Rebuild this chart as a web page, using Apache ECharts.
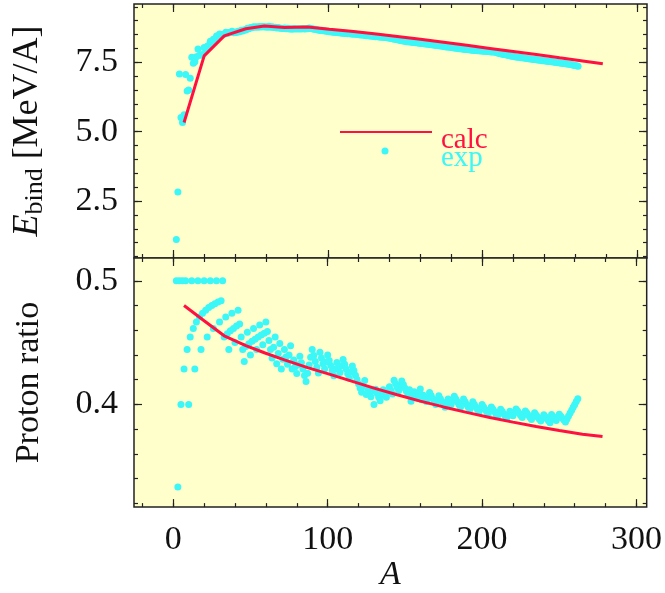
<!DOCTYPE html>
<html>
<head>
<meta charset="utf-8">
<script src="https://cdn.jsdelivr.net/npm/echarts@6.0.0/dist/echarts.min.js"></script>
<style>
  html, body { margin: 0; padding: 0; background: #ffffff; }
  #chart { width: 665px; height: 593px; }
</style>
</head>
<body>
<div id="chart"></div>
<script>
// ---------------- data ----------------
// mass number A of the experimental points
const expA = [
  2,3,4,5,6,7,8,9,10,11,12,13,14,15,16,17,18,19,20,21,22,23,24,25,26,27,28,29,30,31,
  32,33,34,35,36,37,38,39,40,41,42,43,44,45,46,47,48,49,50,51,52,53,54,55,56,57,58,59,60,61,
  62,63,64,65,66,67,68,69,70,71,72,73,74,75,76,77,78,79,80,81,82,83,84,85,86,87,88,89,90,91,
  92,93,94,95,96,97,98,99,100,101,102,103,104,105,106,107,108,109,110,111,112,113,114,115,116,117,118,119,120,121,
  122,123,124,125,126,127,128,129,130,131,132,133,134,135,136,137,138,139,140,141,142,143,144,145,146,147,148,149,150,151,
  152,153,154,155,156,157,158,159,160,161,162,163,164,165,166,167,168,169,170,171,172,173,174,175,176,177,178,179,180,181,
  182,183,184,185,186,187,188,189,190,191,192,193,194,195,196,197,198,199,200,201,202,203,204,205,206,207,208,209,210,211,
  212,213,214,215,216,217,218,219,220,221,222,223,224,225,226,227,228,229,230,231,232,233,234,235,236,237,238,239,240,241,
  242,243,244,245,246,247,248,249,250,251,252,253,254,255,256,257,258,259,260,261,262
];
// experimental binding energy per nucleon [MeV]
const expBind = [
  1.112,2.827,7.074,5.512,5.332,5.606,7.062,6.463,6.498,6.928,7.680,7.470,7.520,7.699,7.976,7.751,7.767,7.779,8.032,7.972,
  8.081,8.112,8.261,8.223,8.334,8.332,8.448,8.449,8.521,8.481,8.493,8.514,8.584,8.538,8.575,8.570,8.614,8.563,8.595,8.576,
  8.617,8.601,8.658,8.631,8.669,8.665,8.723,8.711,8.756,8.742,8.776,8.760,8.778,8.765,8.790,8.770,8.792,8.768,8.781,8.765,
  8.795,8.763,8.777,8.757,8.760,8.737,8.756,8.725,8.730,8.718,8.732,8.705,8.725,8.701,8.711,8.694,8.718,8.696,8.711,8.696,
  8.711,8.696,8.717,8.699,8.712,8.711,8.733,8.714,8.710,8.693,8.693,8.672,8.667,8.649,8.654,8.635,8.635,8.614,8.619,8.601,
  8.607,8.584,8.587,8.572,8.580,8.561,8.567,8.548,8.551,8.537,8.545,8.527,8.539,8.517,8.523,8.510,8.517,8.499,8.505,8.485,
  8.488,8.472,8.473,8.458,8.463,8.446,8.449,8.436,8.430,8.424,8.428,8.413,8.410,8.401,8.403,8.392,8.394,8.378,8.376,8.355,
  8.347,8.330,8.327,8.309,8.304,8.284,8.279,8.263,8.262,8.244,8.244,8.229,8.227,8.213,8.215,8.204,8.202,8.189,8.184,8.173,
  8.173,8.162,8.159,8.147,8.142,8.132,8.130,8.115,8.112,8.102,8.097,8.087,8.084,8.069,8.064,8.052,8.049,8.039,8.035,8.023,
  8.018,8.008,8.005,7.991,7.989,7.978,7.973,7.963,7.962,7.948,7.948,7.938,7.936,7.927,7.927,7.916,7.914,7.905,7.906,7.897,
  7.897,7.887,7.886,7.879,7.875,7.870,7.868,7.849,7.836,7.819,7.804,7.791,7.785,7.769,7.759,7.744,7.734,7.721,7.714,7.700,
  7.694,7.685,7.680,7.667,7.662,7.651,7.645,7.635,7.631,7.619,7.615,7.604,7.601,7.591,7.586,7.576,7.570,7.560,7.556,7.546,
  7.541,7.530,7.525,7.516,7.512,7.502,7.497,7.486,7.482,7.470,7.465,7.455,7.449,7.438,7.432,7.421,7.410,7.398,7.386,7.374,
  7.362
];
// experimental proton ratio Z/A
const expRatio = [
  0.5,0.3333,0.5,0.4,0.5,0.4286,0.5,0.4444,0.4,0.4545,0.5,0.4615,0.4286,0.4667,0.5,0.4706,0.4444,0.4737,0.5,0.4762,
  0.4545,0.4783,0.5,0.48,0.4615,0.4815,0.5,0.4828,0.4667,0.4839,0.5,0.4545,0.4706,0.4571,0.4444,0.4595,0.4737,0.4615,0.45,0.4634,
  0.4762,0.4651,0.4545,0.4444,0.4348,0.4468,0.4583,0.449,0.44,0.451,0.4615,0.4528,0.4444,0.4545,0.4643,0.4561,0.4483,0.4576,0.4667,0.459,
  0.4516,0.4444,0.4375,0.4462,0.4545,0.4328,0.4412,0.4493,0.4286,0.4366,0.4444,0.4384,0.4324,0.44,0.4474,0.4286,0.4359,0.4304,0.425,0.4321,
  0.439,0.4337,0.4286,0.4235,0.4186,0.4253,0.4318,0.4382,0.4444,0.4396,0.4348,0.4301,0.4255,0.4421,0.4375,0.433,0.4286,0.4343,0.44,0.4356,
  0.4314,0.4272,0.4231,0.4286,0.434,0.4299,0.4259,0.4312,0.4364,0.4324,0.4286,0.4248,0.4211,0.4261,0.431,0.4274,0.4237,0.4202,0.4167,0.4132,
  0.4098,0.4146,0.4194,0.408,0.4127,0.4094,0.4063,0.4109,0.4,0.4122,0.4091,0.406,0.403,0.4074,0.4118,0.4088,0.4058,0.4101,0.4143,0.4113,
  0.4085,0.4196,0.4167,0.4138,0.411,0.415,0.4189,0.4161,0.4133,0.4106,0.4079,0.4118,0.4026,0.4065,0.4103,0.4076,0.4051,0.4088,0.4125,0.4037,
  0.4074,0.4049,0.4024,0.4061,0.4096,0.4072,0.4048,0.4024,0.4,0.4035,0.407,0.4046,0.4023,0.4,0.3977,0.4011,0.4045,0.4022,0.4,0.4033,
  0.4066,0.4044,0.4022,0.4,0.3978,0.4011,0.4043,0.4021,0.4,0.3979,0.3958,0.399,0.4021,0.4,0.398,0.3959,0.3939,0.397,0.4,0.398,
  0.396,0.3941,0.3922,0.3951,0.398,0.3961,0.3942,0.3923,0.3905,0.3934,0.3962,0.3944,0.3925,0.3907,0.3889,0.3917,0.3945,0.3927,0.3909,0.3937,
  0.3964,0.3946,0.3929,0.3911,0.3894,0.3921,0.3947,0.393,0.3913,0.3896,0.3879,0.3906,0.3932,0.3915,0.3898,0.3882,0.3866,0.3891,0.3917,0.39,
  0.3884,0.3868,0.3852,0.3918,0.3902,0.3887,0.3871,0.3896,0.392,0.3904,0.3889,0.3874,0.3858,0.3882,0.3906,0.393,0.3953,0.3977,0.4,0.4023,
  0.4046
];
// calculated curve
const calcA     = [7, 20, 33, 47, 59, 72, 87, 101, 115, 130, 145, 160, 175, 190, 205, 220, 235, 250, 265, 278];
const calcBind  = [5.33, 7.73, 8.45, 8.71, 8.81, 8.75, 8.77, 8.69, 8.62, 8.53, 8.43, 8.33, 8.22, 8.11, 8.00, 7.89, 7.78, 7.66, 7.55, 7.45];
const calcRatio = [0.480, 0.4677, 0.4555, 0.4475, 0.4418, 0.436, 0.4298, 0.4245, 0.419, 0.4132, 0.4078, 0.4027, 0.398, 0.3936, 0.3895, 0.3857, 0.3822, 0.3789, 0.3759, 0.3740];

// tick values
const xMajorTicks = [0, 100, 200, 300];
const xMinorTicks = [-20, 0, 20, 40, 60, 80, 100, 120, 140, 160, 180, 200, 220, 240, 260, 280, 300];
const bindMajorTicks = [2.5, 5.0, 7.5];
const bindMinorTicks = [0.5, 1, 1.5, 2, 2.5, 3, 3.5, 4, 4.5, 5, 5.5, 6, 6.5, 7, 7.5, 8, 8.5, 9, 9.5];
const ratioMajorTicks = [0.4, 0.5];
const ratioMinorTicks = [0.32, 0.34, 0.36, 0.38, 0.40, 0.42, 0.44, 0.46, 0.48, 0.50];

// ---------------- styling ----------------
const FONT = '"Liberation Serif", "Times New Roman", Times, serif';
const RED = '#ff1040';
const CYAN = '#3cf7f7';
const BG = '#ffffcc';
const INK = '#222222';
const X_RANGE = [-25.4, 306.6];
const BIND_RANGE = [0.45, 9.6];
const RATIO_RANGE = [0.317, 0.5184];

function axisBase(grid, pos, range, ticks, len) {
  return {
    type: 'value', gridIndex: grid, position: pos,
    min: range[0], max: range[1],
    axisLine: { show: false, onZero: false },
    axisTick: { show: true, inside: true, length: len, customValues: ticks,
                lineStyle: { color: INK, width: 1.2 } },
    axisLabel: { show: false },
    splitLine: { show: false },
    minorTick: { show: false },
    axisPointer: { show: false }
  };
}

const xAxes = [];
const yAxes = [];
[0, 1].forEach(function (g) {
  ['bottom', 'top'].forEach(function (pos) {
    const major = axisBase(g, pos, X_RANGE, xMajorTicks, 8);
    if (g === 1 && pos === 'bottom') {
      major.axisLabel = { show: true, customValues: xMajorTicks, margin: 16,
        fontFamily: FONT, fontSize: 34, color: '#111',
        formatter: function (v) { return String(v); } };
      major.name = 'A';
      major.nameLocation = 'middle';
      major.nameGap = 49;
      major.nameTextStyle = { fontFamily: FONT, fontSize: 34, fontStyle: 'italic', color: '#111' };
    }
    xAxes.push(major);
    xAxes.push(axisBase(g, pos, X_RANGE, xMinorTicks, 4));
  });
});
[0, 1].forEach(function (g) {
  const range = g === 0 ? BIND_RANGE : RATIO_RANGE;
  const majors = g === 0 ? bindMajorTicks : ratioMajorTicks;
  const minors = g === 0 ? bindMinorTicks : ratioMinorTicks;
  ['left', 'right'].forEach(function (pos) {
    const major = axisBase(g, pos, range, majors, 8);
    if (pos === 'left') {
      major.axisLabel = { show: true, customValues: majors, margin: 16,
        fontFamily: FONT, fontSize: 34, color: '#111',
        formatter: function (v) { return v.toFixed(1); } };
      major.nameLocation = 'middle';
      major.nameRotate = 90;
      if (g === 0) {
        major.name = '{e|E}{s|bind}{n| [MeV/A]}';
        major.nameGap = 86;
        major.nameTextStyle = { fontFamily: FONT, fontSize: 34, color: '#111',
          rich: {
            e: { fontFamily: FONT, fontSize: 36, fontStyle: 'italic', color: '#111', lineHeight: 40 },
            s: { fontFamily: FONT, fontSize: 26, color: '#111', lineHeight: 26, verticalAlign: 'bottom' },
            n: { fontFamily: FONT, fontSize: 36, color: '#111', lineHeight: 40 }
          } };
      } else {
        major.name = 'Proton ratio';
        major.nameGap = 88;
        major.nameTextStyle = { fontFamily: FONT, fontSize: 34, color: '#111' };
      }
    }
    yAxes.push(major);
    yAxes.push(axisBase(g, pos, range, minors, 4));
  });
});

function pairs(xs, ys) { return xs.map(function (x, i) { return [x, ys[i]]; }); }

const option = {
  animation: false,
  backgroundColor: '#ffffff',
  textStyle: { fontFamily: FONT },
  grid: [
    { left: 134, right: 18, top: 4, height: 254, show: true, backgroundColor: BG,
      borderColor: INK, borderWidth: 1.5, containLabel: false },
    { left: 134, right: 18, top: 258, height: 259, show: true, backgroundColor: BG,
      borderColor: INK, borderWidth: 1.5, containLabel: false }
  ],
  xAxis: xAxes,
  yAxis: yAxes,
  series: [
    { name: 'exp', type: 'scatter', xAxisIndex: 0, yAxisIndex: 0,
      data: pairs(expA, expBind), symbolSize: 7, itemStyle: { color: CYAN, opacity: 1 }, z: 2 },
    { name: 'calc', type: 'line', xAxisIndex: 0, yAxisIndex: 0,
      data: pairs(calcA, calcBind), showSymbol: false, symbol: 'none',
      lineStyle: { color: RED, width: 3 }, z: 3 },
    { name: 'exp', type: 'scatter', xAxisIndex: 4, yAxisIndex: 4,
      data: pairs(expA, expRatio), symbolSize: 7, itemStyle: { color: CYAN, opacity: 1 }, z: 2 },
    { name: 'calc', type: 'line', xAxisIndex: 4, yAxisIndex: 4,
      data: pairs(calcA, calcRatio), showSymbol: false, symbol: 'none',
      lineStyle: { color: RED, width: 3 }, z: 3 }
  ],
  graphic: [
    { type: 'line', shape: { x1: 340, y1: 132, x2: 432, y2: 132 },
      style: { stroke: RED, lineWidth: 2 }, z: 10 },
    { type: 'circle', shape: { cx: 385, cy: 151, r: 3.5 }, style: { fill: CYAN }, z: 10 },
    { type: 'text', x: 441, y: 140, z: 10,
      style: { text: 'calc', fontFamily: FONT, fontSize: 29, fill: RED, verticalAlign: 'middle', align: 'left' } },
    { type: 'text', x: 441, y: 158, z: 10,
      style: { text: 'exp', fontFamily: FONT, fontSize: 29, fill: CYAN, verticalAlign: 'middle', align: 'left' } }
  ]
};

const chart = echarts.init(document.getElementById('chart'), null, { renderer: 'canvas' });
chart.setOption(option);
</script>
</body>
</html>
